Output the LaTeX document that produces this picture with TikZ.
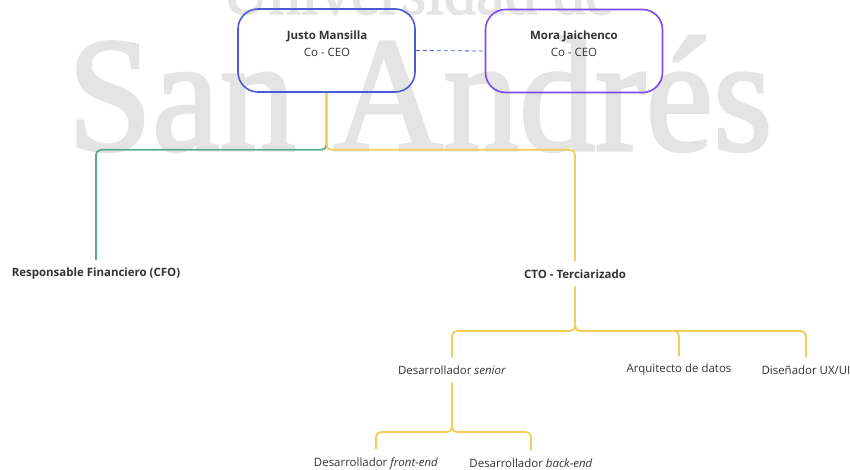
\documentclass[tikz,border=0pt]{standalone}
\usepackage{fontspec}
\setmainfont{Open Sans}
\newfontfamily\wmfont[FakeBold=2]{Liberation Serif}
\usetikzlibrary{calc}

\definecolor{ceoblue}{HTML}{4A5BD4}
\definecolor{ceopurple}{HTML}{7B4BF2}
\definecolor{fingreen}{HTML}{5BAE8E}
\definecolor{techyellow}{HTML}{F4CC58}
\definecolor{wmgray}{HTML}{E4E4E4}
\definecolor{ink}{HTML}{333333}

\tikzset{
  ceobox/.style={draw, line width=1.6bp, rounded corners=20bp,
    minimum width=177bp, minimum height=83bp, inner sep=0pt},
  role/.style={text=ink, font=\fontsize{11.5}{14}\selectfont,
    inner xsep=0pt, inner ysep=8bp, anchor=center},
  rolebold/.style={role, font=\fontsize{11.5}{14}\selectfont\bfseries},
  branch/.style={line width=1.8bp, rounded corners=5bp},
  greenline/.style={branch, draw=fingreen},
  yellowline/.style={branch, draw=techyellow},
  wm/.style={text=wmgray, inner sep=0pt},
}

\begin{document}
\begin{tikzpicture}[x=1bp, y=-1bp]
  \useasboundingbox (0,0) rectangle (850,470);

  % background lettering
  \node[wm, anchor=base] (wmtop) at (418,14)
    {\scalebox{0.95}[1]{\wmfont\fontsize{68}{68}\selectfont Universidad de}};
  \node[wm, anchor=base] (wmmain) at (420,150)
    {\scalebox{0.93}[1]{\wmfont\fontsize{164}{164}\selectfont San Andrés}};

  % co-founders
  \node[ceobox, draw=ceoblue] (justo) at (326.5,50.5) {};
  \node[ceobox, draw=ceopurple] (mora) at (574,51) {};
  \node[text=ink, align=center, font=\fontsize{11.5}{17}\selectfont] (justotxt) at (327,43.5)
    {\textbf{Justo Mansilla}\\Co - CEO};
  \node[text=ink, align=center, font=\fontsize{11.5}{17}\selectfont] (moratxt) at (574,43.5)
    {\textbf{Mora Jaichenco}\\Co - CEO};
  \draw[ceoblue, line width=0.8bp, dash pattern=on 4bp off 3bp]
    (justo.east) -- (mora.west);

  % first level
  \node[rolebold] (cfo) at (96,274) {Responsable Financiero (CFO)};
  \node[rolebold] (cto) at (575,274) {CTO - Terciarizado};

  % second level
  \node[role] (senior) at (452,370) {Desarrollador \textit{senior}};
  \node[role] (datos) at (679,370) {Arquitecto de datos};
  \node[role] (ux) at (806,370) {Diseñador UX/UI};

  % third level
  \node[role] (front) at (376,463) {Desarrollador \textit{front-end}};
  \node[role] (back) at (531,463) {Desarrollador \textit{back-end}};

  % reporting lines
  \coordinate (split) at ($(justo.south)+(0,57)$);
  \draw[greenline] (justo.south) -- (split) -- (split -| cfo.north) -- (cfo.north);
  \draw[yellowline] (justo.south) -- (split) -- (split -| cto.north) -- (cto.north);

  \coordinate (ctosplit) at (575,331);
  \draw[yellowline] (cto.south) -- (ctosplit) -- (ctosplit -| senior.north) -- (senior.north);
  \draw[yellowline] (cto.south) -- (ctosplit) -- (ctosplit -| datos.north) -- (datos.north);
  \draw[yellowline] (cto.south) -- (ctosplit) -- (ctosplit -| ux.north) -- (ux.north);

  \coordinate (devsplit) at (452,432);
  \draw[yellowline] (senior.south) -- (devsplit) -- (devsplit -| front.north) -- (front.north);
  \draw[yellowline] (senior.south) -- (devsplit) -- (devsplit -| back.north) -- (back.north);
\end{tikzpicture}
\end{document}
